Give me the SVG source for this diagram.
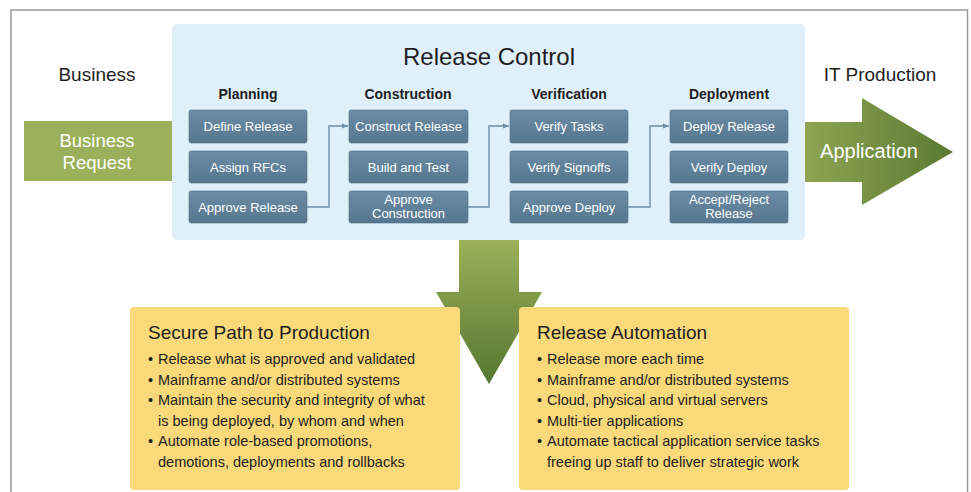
<svg xmlns="http://www.w3.org/2000/svg" width="971" height="492" viewBox="0 0 971 492">
<defs>
<style>
text{font-family:"Liberation Sans",Arial,sans-serif}
.step rect{fill:url(#boxg);stroke:#4f6d85;stroke-width:0.6}
.step text{fill:#fff;font-size:13px;text-anchor:middle}
.hdr{font-size:14px;font-weight:bold;fill:#1e1e1e;text-anchor:middle}
.lbl{font-size:19px;fill:#1e1e1e;text-anchor:middle}
.conn{fill:none;stroke:#6d8ca6;stroke-width:1.4}
.card rect{fill:#fad97a}
.card .t{font-size:19px;fill:#1e1e1e}
.card .b{font-size:14.5px;fill:#1e1e1e}
</style>
<linearGradient id="boxg" x1="0" y1="0" x2="0" y2="1">
<stop offset="0" stop-color="#6c8ca6"/>
<stop offset="1" stop-color="#57778f"/>
</linearGradient>
<linearGradient id="appg" x1="0" y1="0" x2="1" y2="0">
<stop offset="0" stop-color="#8ea453"/>
<stop offset="1" stop-color="#5a7a32"/>
</linearGradient>
<linearGradient id="downg" x1="0" y1="0" x2="0" y2="1">
<stop offset="0" stop-color="#9bb05a"/>
<stop offset="1" stop-color="#557730"/>
</linearGradient>
<marker id="ah" viewBox="0 0 10 10" refX="10" refY="5" markerWidth="6" markerHeight="6" orient="auto" markerUnits="userSpaceOnUse">
<path d="M0,1 L10,5 L0,9 z" fill="#6d8ca6"/>
</marker>
</defs>
<rect width="971" height="492" fill="#fff"/>
<rect x="11" y="10" width="956.5" height="500" fill="none" stroke="#999" stroke-width="1.5"/>

<g id="release-control">
<rect x="172" y="24" width="633" height="216" rx="5" fill="#dff0fa"/>
<text x="489" y="65" font-size="24" fill="#1e1e1e" text-anchor="middle">Release Control</text>
</g>

<text class="lbl" x="97" y="81">Business</text>
<text class="lbl" x="880" y="81">IT Production</text>

<g id="business-request">
<rect x="24" y="121" width="148" height="60" fill="#9bb05a"/>
<text x="97" y="147" font-size="18.5" fill="#fff" text-anchor="middle">Business</text>
<text x="97" y="169" font-size="18.5" fill="#fff" text-anchor="middle">Request</text>
</g>

<g id="application">
<path d="M805,122 L862,122 L862,98 L953,152 L862,205 L862,182 L805,182 z" fill="url(#appg)"/>
<text x="869" y="158" font-size="20" fill="#fff" text-anchor="middle">Application</text>
</g>

<g id="down-arrow">
<path d="M459,240 L519,240 L519,292 L542,292 L489,384 L436,292 L459,292 z" fill="url(#downg)"/>
</g>

<text class="hdr" x="248" y="99">Planning</text>
<text class="hdr" x="408" y="99">Construction</text>
<text class="hdr" x="569" y="99">Verification</text>
<text class="hdr" x="729" y="99">Deployment</text>

<g id="define-release" class="step"><rect x="189" y="110" width="118" height="33" rx="2"/><text x="248" y="131">Define Release</text></g>
<g id="assign-rfcs" class="step"><rect x="189" y="151" width="118" height="32" rx="2"/><text x="248" y="172">Assign RFCs</text></g>
<g id="approve-release" class="step"><rect x="189" y="191" width="118" height="32" rx="2"/><text x="248" y="212">Approve Release</text></g>

<g id="construct-release" class="step"><rect x="349" y="110" width="119" height="33" rx="2"/><text x="408.5" y="131">Construct Release</text></g>
<g id="build-and-test" class="step"><rect x="349" y="151" width="119" height="32" rx="2"/><text x="408.5" y="172">Build and Test</text></g>
<g id="approve-construction" class="step"><rect x="349" y="191" width="119" height="32" rx="2"/><text x="408.5" y="204">Approve</text><text x="408.5" y="218">Construction</text></g>

<g id="verify-tasks" class="step"><rect x="510" y="110" width="118" height="33" rx="2"/><text x="569" y="131">Verify Tasks</text></g>
<g id="verify-signoffs" class="step"><rect x="510" y="151" width="118" height="32" rx="2"/><text x="569" y="172">Verify Signoffs</text></g>
<g id="approve-deploy" class="step"><rect x="510" y="191" width="118" height="32" rx="2"/><text x="569" y="212">Approve Deploy</text></g>

<g id="deploy-release" class="step"><rect x="670" y="110" width="118" height="33" rx="2"/><text x="729" y="131">Deploy Release</text></g>
<g id="verify-deploy" class="step"><rect x="670" y="151" width="118" height="32" rx="2"/><text x="729" y="172">Verify Deploy</text></g>
<g id="accept-reject-release" class="step"><rect x="670" y="191" width="118" height="32" rx="2"/><text x="729" y="204">Accept/Reject</text><text x="729" y="218">Release</text></g>

<g id="connectors">
<path class="conn" d="M307,207 H329 V126 H348" marker-end="url(#ah)"/>
<path class="conn" d="M468,207 H489 V126 H509" marker-end="url(#ah)"/>
<path class="conn" d="M628,207 H650 V126 H669" marker-end="url(#ah)"/>
</g>

<g id="secure-path" class="card">
<rect x="130" y="307" width="330" height="183" rx="4"/>
<text class="t" x="148" y="339">Secure Path to Production</text>
<text class="b" x="148" y="364">•</text><text class="b" x="158" y="364">Release what is approved and validated</text>
<text class="b" x="148" y="385">•</text><text class="b" x="158" y="385">Mainframe and/or distributed systems</text>
<text class="b" x="148" y="405">•</text><text class="b" x="158" y="405">Maintain the security and integrity of what</text>
<text class="b" x="158" y="426">is being deployed, by whom and when</text>
<text class="b" x="148" y="446">•</text><text class="b" x="158" y="446">Automate role-based promotions,</text>
<text class="b" x="158" y="467">demotions, deployments and rollbacks</text>
</g>

<g id="release-automation" class="card">
<rect x="519" y="307" width="330" height="183" rx="4"/>
<text class="t" x="537" y="339">Release Automation</text>
<text class="b" x="537" y="364">•</text><text class="b" x="547" y="364">Release more each time</text>
<text class="b" x="537" y="385">•</text><text class="b" x="547" y="385">Mainframe and/or distributed systems</text>
<text class="b" x="537" y="405">•</text><text class="b" x="547" y="405">Cloud, physical and virtual servers</text>
<text class="b" x="537" y="426">•</text><text class="b" x="547" y="426">Multi-tier applications</text>
<text class="b" x="537" y="446">•</text><text class="b" x="547" y="446">Automate tactical application service tasks</text>
<text class="b" x="547" y="467">freeing up staff to deliver strategic work</text>
</g>
</svg>
